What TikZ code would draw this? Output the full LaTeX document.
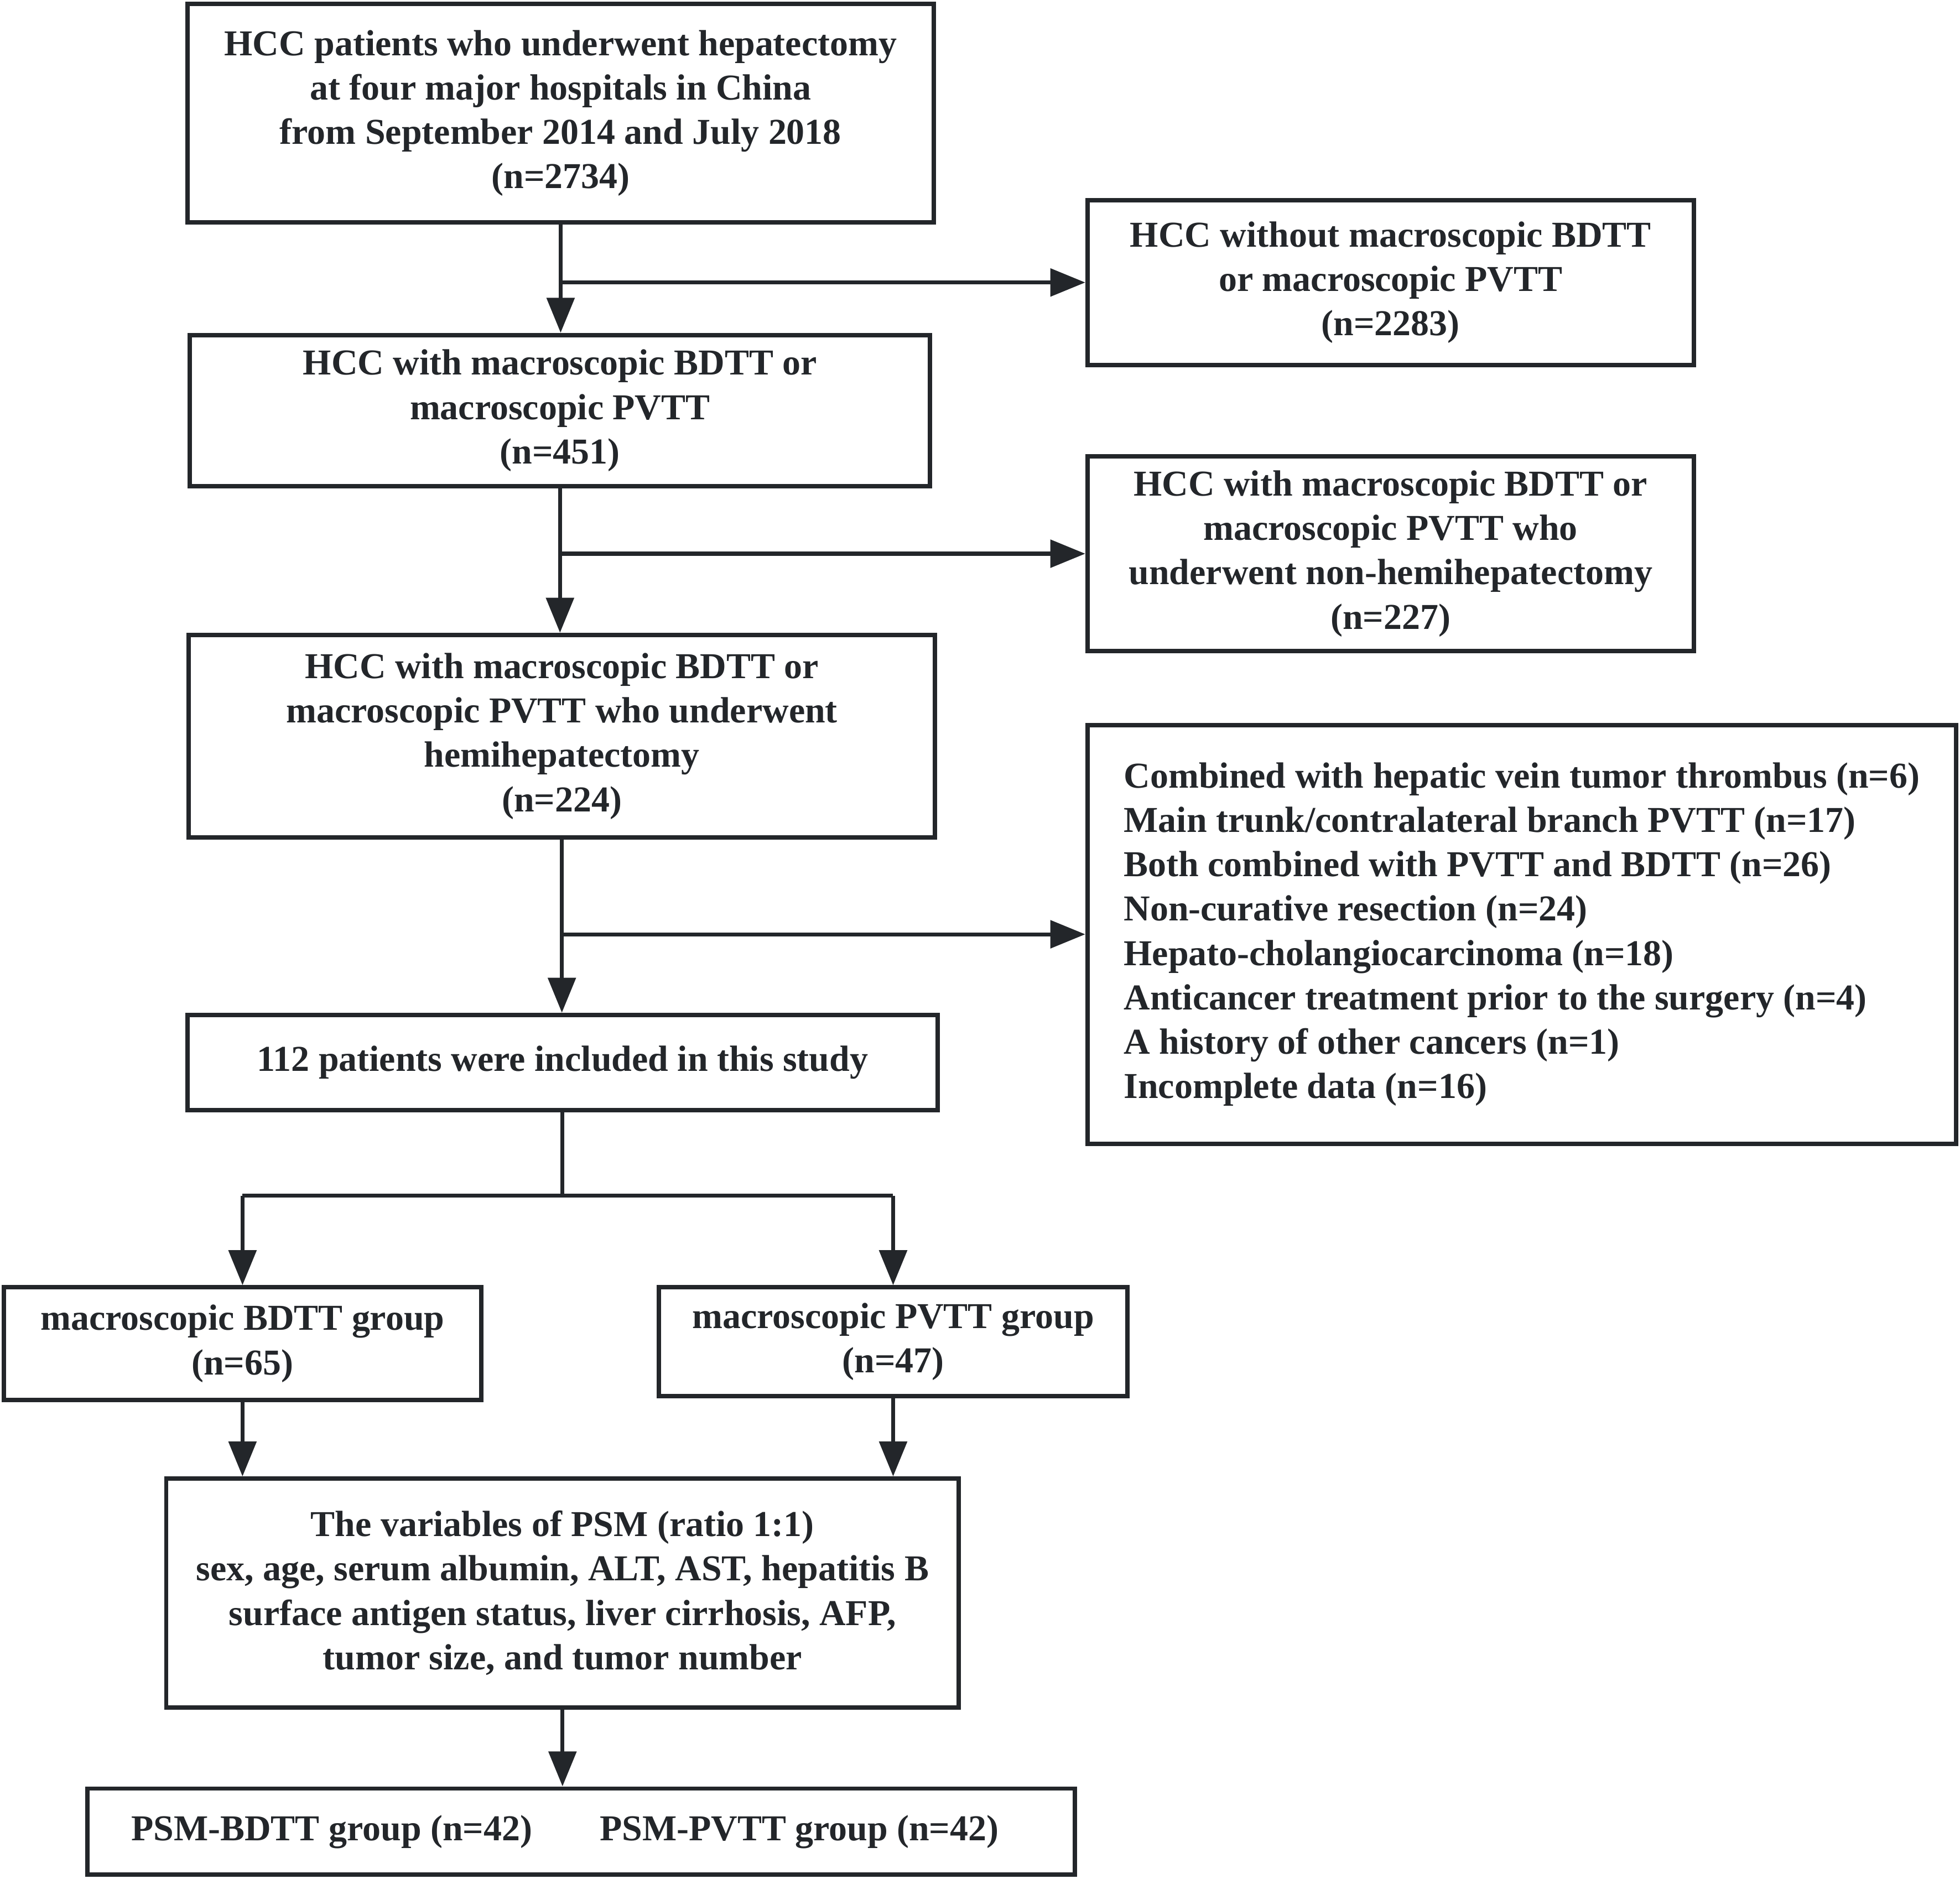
\documentclass[tikz,border=0pt]{standalone}
\usepackage[RGB]{xcolor}
\usepackage{fontspec}
\setmainfont{Liberation Serif}
\usepackage{tikz}
\usetikzlibrary{arrows.meta,calc}
\definecolor{ink}{RGB}{35,38,42}
\tikzset{
  flowbox/.style={draw=ink, line width=1pt, inner sep=0pt, align=center,
    font=\bfseries\fontsize{8.3}{10.1}\selectfont, text=ink},
  flowarrow/.style={draw=ink, line width=0.9pt, -{Triangle[length=2.8mm, width=2.2mm]}},
  flowline/.style={draw=ink, line width=0.9pt}
}
\newcommand{\drawarrow}{\draw[flowarrow]}
\newcommand{\drawline}{\draw[flowline]}
\begin{document}
\begin{tikzpicture}
\useasboundingbox (0,0) rectangle (15.68,-15.03);
% main column
\node[flowbox, minimum width=5.97cm, minimum height=1.75cm] (start) at (4.485,-0.905)
  {HCC patients who underwent hepatectomy\\at four major hospitals in China\\from September 2014 and July 2018\\(n=2734)};
\node[flowbox, minimum width=5.92cm, minimum height=1.21cm] (tumor) at (4.48,-3.285)
  {HCC with macroscopic BDTT or\\macroscopic PVTT\\(n=451)};
\node[flowbox, minimum width=5.97cm, minimum height=1.62cm] (hemi) at (4.495,-5.89)
  {HCC with macroscopic BDTT or\\macroscopic PVTT who underwent\\hemihepatectomy\\(n=224)};
\node[flowbox, minimum width=6.00cm, minimum height=0.76cm] (study) at (4.50,-8.50)
  {112 patients were included in this study};
% excluded
\node[flowbox, minimum width=4.85cm, minimum height=1.32cm] (notumor) at (11.125,-2.26)
  {HCC without macroscopic BDTT\\or macroscopic PVTT\\(n=2283)};
\node[flowbox, minimum width=4.85cm, minimum height=1.56cm] (nonhemi) at (11.125,-4.43)
  {HCC with macroscopic BDTT or\\macroscopic PVTT who\\underwent non-hemihepatectomy\\(n=227)};
\node[flowbox, align=left, minimum width=6.95cm, minimum height=3.35cm] (other) at (12.175,-7.475)
  {Combined with hepatic vein tumor thrombus (n=6)\\Main trunk/contralateral branch PVTT (n=17)\\Both combined with PVTT and BDTT (n=26)\\Non-curative resection (n=24)\\Hepato-cholangiocarcinoma (n=18)\\Anticancer treatment prior to the surgery (n=4)\\A history of other cancers (n=1)\\Incomplete data (n=16)};
% groups
\node[flowbox, minimum width=3.82cm, minimum height=0.90cm] (bdtt) at (1.94,-10.75)
  {macroscopic BDTT group\\(n=65)};
\node[flowbox, minimum width=3.75cm, minimum height=0.87cm] (pvtt) at (7.145,-10.735)
  {macroscopic PVTT group\\(n=47)};
\node[flowbox, minimum width=6.34cm, minimum height=1.83cm] (psm) at (4.50,-12.745)
  {The variables of PSM (ratio 1:1)\\sex, age, serum albumin, ALT, AST, hepatitis B\\surface antigen status, liver cirrhosis, AFP,\\tumor size, and tumor number};
\node[flowbox, minimum width=7.90cm, minimum height=0.69cm] (matched) at (4.65,-14.655)
  {PSM-BDTT group (n=42)\hspace{5.4mm}PSM-PVTT group (n=42)\hspace{2.6mm}};
% connectors
\drawarrow (start.south) -- (start.south |- tumor.north);
\drawarrow (start.south |- notumor.west) -- (notumor.west);
\drawarrow (tumor.south) -- (tumor.south |- hemi.north);
\drawarrow (tumor.south |- nonhemi.west) -- (nonhemi.west);
\drawarrow (hemi.south) -- (hemi.south |- study.north);
\drawarrow (hemi.south |- other.west) -- (other.west);
\coordinate (split) at ($(study.south)+(0,-0.67)$);
\drawline (study.south) -- (split);
\drawline (bdtt.north |- split) -- (pvtt.north |- split);
\drawarrow (bdtt.north |- split) -- (bdtt.north);
\drawarrow (pvtt.north |- split) -- (pvtt.north);
\drawarrow (bdtt.south) -- (bdtt.south |- psm.north);
\drawarrow (pvtt.south) -- (pvtt.south |- psm.north);
\drawarrow (psm.south) -- (psm.south |- matched.north);
\end{tikzpicture}
\end{document}
